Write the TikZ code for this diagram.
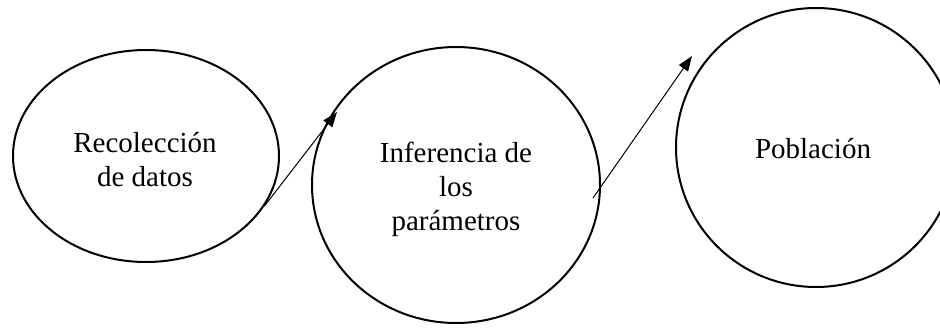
\documentclass[tikz,border=0pt]{standalone}
\usepackage{fontspec}
\setmainfont{Liberation Serif}
\usetikzlibrary{shapes.geometric,arrows.meta}
\begin{document}
\begin{tikzpicture}[x=1pt,y=-1pt,
  bubble/.style={draw,ellipse,line width=2pt,inner sep=0pt},
  lbl/.style={font=\fontsize{29}{34}\selectfont,align=center,inner sep=0pt,anchor=base},
  conn/.style={line width=1pt,-{Triangle[length=15pt,width=11pt]}}]
\useasboundingbox (0,0) rectangle (940,327);
\node[bubble,minimum width=266pt,minimum height=212pt] (a) at (146,156) {};
\node[bubble,minimum width=288pt,minimum height=276pt] (b) at (456,185) {};
\node[bubble,minimum width=280pt,minimum height=279pt] (c) at (816,147.5) {};
\node[lbl] (ta) at (145,186) {Recolección\\de datos};
\node[lbl] (tb) at (456,230) {Inferencia de\\los\\parámetros};
\node[lbl] (tc) at (813,158) {Población};
\coordinate (t1) at (337,112);
\coordinate (s2) at (593,198);
\coordinate (t2) at (692,56);
\draw[conn] (a.-23.7) -- (t1);
\draw[conn] (s2) -- (t2);
\end{tikzpicture}
\end{document}
